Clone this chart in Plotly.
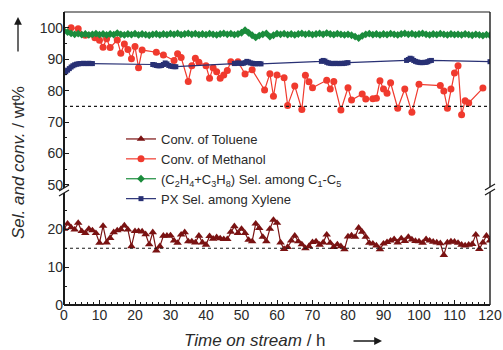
import plotly.graph_objects as go

# ---------------- data ----------------
tol_t = list(range(0, 121))
tol_v = [20.1, 21.5, 20.5, 19.9, 21.7, 19.5, 19.0, 20.1, 19.7, 19.0,
         16.4, 20.9, 16.5, 17.7, 19.2, 19.7, 20.0, 21.0, 19.9, 15.5,
         19.5, 19.5, 19.4, 18.7, 16.0, 19.2, 14.4, 15.5, 18.3, 18.3,
         18.4, 17.0, 16.4, 18.6, 19.2, 16.8, 16.8, 16.5, 18.3, 16.5,
         15.9, 18.2, 17.5, 17.9, 17.6, 17.4, 17.4, 19.3, 20.8, 19.0,
         20.1, 19.0, 17.2, 16.8, 21.5, 20.3, 18.0, 16.8, 20.1, 22.5,
         21.7, 16.5, 14.8, 15.3, 17.0, 18.3, 16.8, 16.0, 15.0, 15.5,
         16.6, 16.8, 15.9, 16.5, 18.6, 16.4, 15.3, 16.0, 15.5, 14.7,
         18.1, 18.4, 18.0, 20.4, 19.3, 18.0, 16.4, 16.2, 15.7, 14.7,
         16.2, 16.6, 17.0, 17.4, 16.5, 17.6, 16.9, 18.0, 17.3, 16.9,
         16.8, 16.4, 17.4, 17.0, 16.7, 16.5, 16.3, 13.2, 16.5, 16.8,
         16.7, 16.4, 15.9, 15.7, 15.9, 16.1, 18.6, 14.8, 16.5, 18.3,
         17.0]

meth_t = [2, 4, 6, 8.7, 10, 11, 12, 13, 15, 16,
          17, 18, 19, 20, 21, 22, 26, 28, 31, 32,
          33, 35, 36, 37, 38, 40, 41, 42, 43, 44,
          45, 46, 47, 49, 51, 53, 56.5, 58, 59, 60,
          62, 63, 65, 67, 68, 69, 70, 74, 75, 76,
          78, 80, 81, 84, 85, 87, 88, 89, 90, 91,
          92, 94, 96, 98, 100, 106, 107, 108, 109, 110,
          111, 112, 113, 114, 118]
meth_v = [100, 99.7, 97.6, 96.8, 96.0, 93.8, 96.5, 93.7, 96.1, 91.9,
          94.8, 93.1, 90.1, 94.0, 87.3, 92.9, 92.2, 91.3, 89.6, 91.7,
          90.5, 82.9, 87.9, 90.3, 89.0, 87.9, 83.9, 87.3, 86.0, 83.9,
          85.0, 86.4, 89.2, 89.2, 85.3, 86.6, 80.2, 85.4, 78.2, 85.0,
          84.1, 75.3, 81.5, 74.0, 84.9, 82.8, 80.9, 83.3, 80.5, 82.9,
          73.8, 80.9, 77.0, 78.9, 77.3, 77.4, 77.6, 83.1, 80.5, 79.2,
          82.5, 74.4, 80.5, 73.1, 82.0, 81.6, 79.9, 74.4, 80.5, 85.6,
          87.9, 72.3, 76.8, 76.1, 80.8]

olef_t = list(range(0, 121))
olef_v = [99.0, 98.6, 98.2, 97.9, 98.1, 97.8, 98.0, 97.7, 97.9, 98.1, 97.8,
          98.0, 97.7, 98.0, 97.8, 98.3, 97.9, 97.7, 98.0, 97.8, 98.1,
          97.7, 98.0, 97.8, 97.6, 97.9, 98.0, 97.7, 98.0, 97.8, 98.1,
          97.9, 98.2, 97.8, 98.0, 98.2, 97.9, 98.1, 97.8, 98.0, 97.8,
          98.1, 97.9, 97.7, 98.0, 98.2, 97.9, 98.1, 97.8, 98.0, 98.4,
          99.2, 98.4, 97.6, 96.9, 97.5, 97.9, 98.2, 97.2, 97.6, 98.1,
          97.9, 98.1, 97.8, 98.0, 97.7, 98.0, 98.2, 97.9, 98.1, 97.8,
          98.0, 98.2, 97.9, 98.3, 98.0, 97.8, 98.1, 97.9, 97.7, 97.9,
          97.6, 97.2, 96.7, 97.4, 97.9, 98.1, 97.8, 98.0, 97.7, 98.0,
          97.8, 98.1, 97.9, 97.7, 98.0, 98.2, 97.9, 98.1, 97.8, 98.0,
          98.2, 97.9, 97.7, 98.0, 97.8, 98.1, 97.9, 97.7, 98.0, 97.8,
          97.9, 97.7, 98.0, 97.8, 97.6, 97.9, 97.7, 97.5, 97.8, 97.6]

px_t = [0, 0.5, 1, 1.5, 2, 2.5, 3, 3.5, 4, 4.5, 5, 5.5, 6, 6.5, 7, 7.5, 8,
        25, 25.5, 26, 26.5, 27, 27.5, 28, 28.5, 29, 29.5, 30, 30.5, 31, 31.5,
        48, 48.5, 49, 49.5, 50, 50.5, 51, 51.5, 52, 52.5, 53, 53.5, 54, 54.5, 55, 55.5,
        72.5, 73, 73.5, 74, 74.5, 75, 75.5, 76, 76.5, 77, 77.5, 78, 78.5, 79, 79.5, 80,
        96.5, 97, 97.5, 98, 98.5, 99, 99.5, 100, 100.5, 101, 101.5, 102, 102.5, 103, 103.5,
        120]
px_v = [85.7, 86.0, 86.5, 87.0, 87.5, 87.9, 88.2, 88.4, 88.5, 88.6, 88.6, 88.7, 88.6, 88.6, 88.7, 88.6, 88.6,
        88.3, 88.2, 88.0, 87.9, 87.9, 88.0, 88.3, 88.8, 88.5, 88.0, 87.8, 87.7, 87.6, 87.6,
        88.6, 88.7, 88.8, 88.7, 88.6, 88.7, 88.9, 89.3, 89.1, 88.8, 88.7, 88.6, 88.5, 88.6, 88.6, 88.5,
        89.3, 89.6, 89.4, 89.0, 88.8, 88.7, 88.6, 88.6, 88.7, 88.6, 88.6, 88.7, 88.6, 88.7, 88.8, 88.9,
        89.6, 89.9, 90.3, 90.1, 89.6, 89.3, 89.1, 89.0, 88.9, 88.9, 89.0, 89.0, 89.2, 89.5, 89.6,
        89.2]

x_ticks = [0, 10, 20, 30, 40, 50, 60, 70, 80, 90, 100, 110, 120]
low_ticks = [0, 10, 20]
low_minor = [5, 15, 25]
up_ticks = [50, 60, 70, 80, 90, 100]
up_minor = [55, 65, 75, 85, 95]
ref_upper = 75
ref_lower = 15

# ---------------- layout geometry (page pixels) ----------------
FW, FH = 503, 350
L, R, T, B = 64, 490, 12, 305
W, H = R - L, B - T
BREAK = 190


def pxx(xp):
    return (xp - L) / W


def pyy(yp):
    return (B - yp) / H


dom_split = pyy(BREAK)

C_TOL = "#7a1212"
C_METH = "#f03a2e"
C_OLEF = "#1b8c3c"
C_PX = "#283074"
AX = "#1a1a1a"
TXT = "#2a2a2a"

fig = go.Figure()
fig.add_trace(go.Scatter(x=tol_t, y=tol_v, yaxis="y", mode="lines+markers",
                         name="Conv. of Toluene",
                         line=dict(color=C_TOL, width=1.2),
                         marker=dict(symbol="triangle-up", size=7.5, color=C_TOL)))
fig.add_trace(go.Scatter(x=meth_t, y=meth_v, yaxis="y2", mode="lines+markers",
                         name="Conv. of Methanol",
                         line=dict(color=C_METH, width=1.2),
                         marker=dict(symbol="circle", size=7, color=C_METH)))
fig.add_trace(go.Scatter(x=olef_t, y=olef_v, yaxis="y2", mode="lines+markers",
                         name="(C<sub>2</sub>H<sub>4</sub>+C<sub>3</sub>H<sub>8</sub>) Sel. among C<sub>1</sub>-C<sub>5</sub>",
                         line=dict(color=C_OLEF, width=1.2),
                         marker=dict(symbol="diamond", size=6, color=C_OLEF)))
fig.add_trace(go.Scatter(x=px_t, y=px_v, yaxis="y2", mode="lines+markers",
                         name="PX Sel. among Xylene",
                         line=dict(color=C_PX, width=1.2),
                         marker=dict(symbol="square", size=5, color=C_PX)))

shapes = []
shapes.append(dict(type="line", xref="x", yref="y2", x0=x_ticks[0], x1=x_ticks[-1],
                   y0=ref_upper, y1=ref_upper, line=dict(color=AX, width=1.2, dash="dot")))
shapes.append(dict(type="line", xref="x", yref="y", x0=x_ticks[0], x1=x_ticks[-1],
                   y0=ref_lower, y1=ref_lower, line=dict(color=AX, width=1.2, dash="dot")))


def seg(x0, y0, x1, y1, w=1.6):
    shapes.append(dict(type="line", xref="paper", yref="paper",
                       x0=pxx(x0), y0=pyy(y0), x1=pxx(x1), y1=pyy(y1),
                       line=dict(color=AX, width=w)))


seg(L, B, R, B, 2)          # bottom
seg(L, T, R, T, 1.2)        # top
seg(L, B, L, 193, 2)        # left lower
seg(L, 188, L, T, 2)        # left upper
seg(R, B, R, 192, 1.4)      # right lower
seg(R, 187, R, T, 1.4)      # right upper
seg(59, 196, 69, 190, 1.2)  # break marks
seg(59, 191, 69, 185, 1.2)
seg(485, 195, 495, 189, 1.2)
seg(485, 190, 495, 184, 1.2)

annotations = [
    dict(text="<i>Sel. and conv.</i> / wt%", xref="paper", yref="paper",
         x=pxx(18), y=pyy(163), textangle=-90, showarrow=False,
         font=dict(size=17, color=TXT), xanchor="center", yanchor="middle"),
    dict(text="", xref="paper", yref="paper", x=pxx(18), y=pyy(17),
         ax=0, ay=36, showarrow=True, arrowhead=2, arrowsize=1.2,
         arrowwidth=1.3, arrowcolor=AX),
    dict(text="<i>Time on stream</i> / h", xref="paper", yref="paper",
         x=pxx(255), y=pyy(340), showarrow=False,
         font=dict(size=17, color=TXT), xanchor="center", yanchor="middle"),
    dict(text="", xref="paper", yref="paper", x=pxx(382), y=pyy(341),
         ax=-30, ay=0, showarrow=True, arrowhead=2, arrowsize=1.2,
         arrowwidth=1.3, arrowcolor=AX),
]

fig.update_layout(
    width=FW, height=FH,
    margin=dict(l=L, r=FW - R, t=T, b=FH - B, autoexpand=False),
    paper_bgcolor="white", plot_bgcolor="white",
    font=dict(family="Liberation Sans, Arial, sans-serif", color=TXT),
    showlegend=True,
    legend=dict(x=pxx(121), y=pyy(124), xanchor="left", yanchor="top",
                bgcolor="rgba(0,0,0,0)", font=dict(size=13, color=TXT),
                tracegroupgap=0),
    xaxis=dict(range=[0, 120], tickvals=x_ticks, ticks="inside", ticklen=5,
               tickwidth=1.4, tickcolor=AX, showgrid=False, zeroline=False,
               showline=False, anchor="y", automargin=False,
               tickfont=dict(size=14, color=TXT),
               minor=dict(dtick=10 / 6, tick0=0, ticks="inside", ticklen=3,
                          tickwidth=1.2, tickcolor=AX, showgrid=False)),
    yaxis=dict(domain=[0, dom_split], range=[0, 30.4], tickvals=low_ticks,
               ticks="inside", ticklen=5, tickwidth=1.4, tickcolor=AX,
               showgrid=False, zeroline=False, showline=False, automargin=False,
               tickfont=dict(size=14, color=TXT),
               minor=dict(tickvals=low_minor, ticks="inside", ticklen=3,
                          tickwidth=1.2, tickcolor=AX, showgrid=False)),
    yaxis2=dict(domain=[dom_split, 1], range=[48.4, 105], tickvals=up_ticks,
                ticks="inside", ticklen=5, tickwidth=1.4, tickcolor=AX,
                showgrid=False, zeroline=False, showline=False, anchor="x",
                automargin=False,
                tickfont=dict(size=14, color=TXT),
                minor=dict(tickvals=up_minor, ticks="inside", ticklen=3,
                           tickwidth=1.2, tickcolor=AX, showgrid=False)),
    shapes=shapes,
    annotations=annotations,
)

# remove the browser's default 8px page margin so the 503x350 figure fills the window
fig.write_html("out.html",
               config={"displayModeBar": False},
               post_script="document.body.style.margin='0';"
                           "document.body.style.overflow='hidden';")
